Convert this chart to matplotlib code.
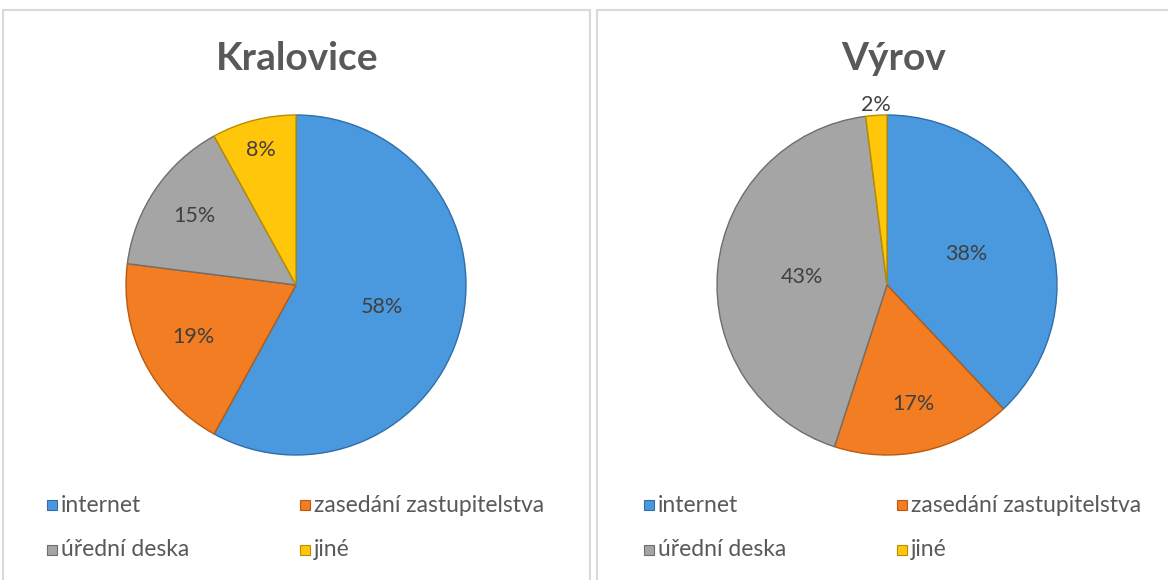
import matplotlib.pyplot as plt
import numpy as np
from matplotlib.patches import Rectangle

plt.rcParams["font.family"] = ["Lato", "DejaVu Sans"]

W, H = 1168, 580

categories = ["internet", "zasedání zastupitelstva", "úřední deska", "jiné"]
kralovice = [58, 19, 15, 8]
vyrov = [38, 17, 43, 2]
titles = ["Kralovice", "Výrov"]

colors = ["#4A98DE", "#F27D22", "#A5A5A5", "#FFC60A"]
edges = ["#2F6EA8", "#B85A12", "#6E6E6E", "#B88E00"]
text_color = "#595959"
label_color = "#404040"

# label radius per wedge (fraction of pie radius), mimicking Excel "best fit"
label_r = [[0.52, 0.68, 0.72, 0.82], [0.50, 0.72, 0.50, 1.06]]


def px_axes(fig, x0, y0, w, h):
    return fig.add_axes([x0 / W, 1 - (y0 + h) / H, w / W, h / H])


fig = plt.figure(figsize=(W / 100, H / 100), dpi=100)

# panel frames
for x0, x1 in [(3, 590), (597, 1175)]:
    fig.patches.append(Rectangle((x0 / W, -0.1), (x1 - x0) / W, 1.1 - 10 / H,
                                 transform=fig.transFigure, fill=False,
                                 edgecolor="#D9D9D9", linewidth=1.5))

panels = [(296, kralovice, 0), (887, vyrov, 597)]
for i, (cx, values, offset) in enumerate(panels):
    r = 170
    ax = px_axes(fig, cx - r, 285 - r, 2 * r, 2 * r)
    wedges, _ = ax.pie(values, colors=colors, startangle=90, counterclock=False,
                       radius=1, wedgeprops=dict(linewidth=1.0))
    for w, ec in zip(wedges, edges):
        w.set_edgecolor(ec)
    total = sum(values)
    for w, v, lr in zip(wedges, values, label_r[i]):
        ang = np.deg2rad((w.theta1 + w.theta2) / 2)
        ax.text(lr * np.cos(ang), lr * np.sin(ang), f"{round(100 * v / total)}%",
                ha="center", va="center", fontsize=15.5, color=label_color)
    ax.set_xlim(-1, 1)
    ax.set_ylim(-1, 1)
    ax.axis("off")

    fig.text((offset + 297) / W, 1 - 58 / H, titles[i], ha="center", va="center",
             fontsize=28, fontweight="bold", color=text_color)

    # legend
    spots = [(52, 505), (305, 505), (52, 550), (305, 550)]
    for (lx, ly), cat, c, ec in zip(spots, categories, colors, edges):
        lx += offset
        fig.patches.append(Rectangle(((lx - 5) / W, 1 - (ly + 5) / H), 10 / W, 10 / H,
                                     transform=fig.transFigure, facecolor=c,
                                     edgecolor=ec, linewidth=0.8))
        fig.text((lx + 9) / W, 1 - ly / H, cat, ha="left", va="center",
                 fontsize=16.5, color=text_color)

fig.savefig("out.png", dpi=100, facecolor="white")
